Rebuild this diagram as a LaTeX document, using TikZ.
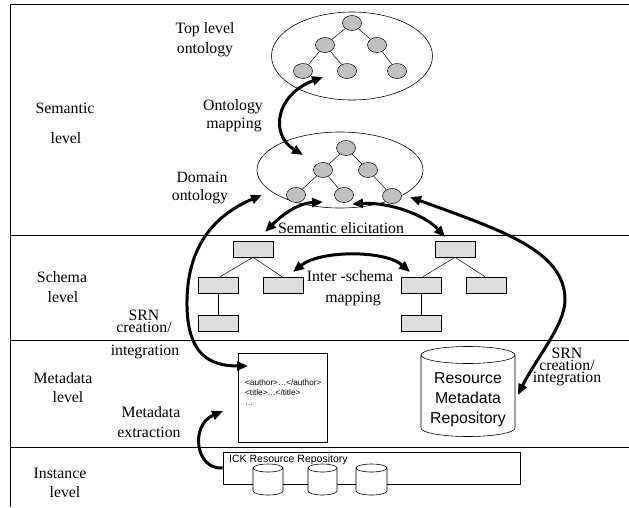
\documentclass[tikz,border=0pt]{standalone}
\usepackage{fontspec}
\setmainfont{Liberation Serif}
\setsansfont{Liberation Sans}
\usetikzlibrary{arrows.meta,shapes.geometric}
\definecolor{ogray}{HTML}{C0C0C0}
\definecolor{sgray}{HTML}{DDDDDD}
\tikzset{
  pics/dbcyl/.style n args={3}{code={
    \draw[fill=white,line width=0.6pt] (-#1pt,0pt) -- (-#1pt,-#2pt)
      arc[start angle=180,end angle=360,x radius=#1pt,y radius=#3pt] -- (#1pt,0pt);
    \draw[fill=white,line width=0.6pt] (0pt,0pt) ellipse[x radius=#1pt,y radius=#3pt];
  }}
}
\begin{document}
\begin{tikzpicture}[x=1pt,y=-1pt,
  frameline/.style={line width=0.8pt},
  lbl/.style={font=\fontsize{15.8}{18}\selectfont, anchor=base, inner sep=0pt},
  tightlbl/.style={font=\fontsize{15.8}{12}\selectfont, align=center, anchor=north, inner sep=0pt},
  slbl/.style={font=\sffamily\fontsize{15.8}{18}\selectfont, anchor=base, inner sep=0pt},
  doctxt/.style={font=\sffamily\fontsize{8.2}{10}\selectfont, anchor=base west, inner sep=0pt},
  onode/.style={ellipse, draw, fill=ogray, minimum width=19pt, minimum height=15pt, inner sep=0pt, line width=0.5pt},
  snode/.style={rectangle, draw, fill=sgray, minimum width=40pt, minimum height=16pt, inner sep=0pt, line width=0.6pt},
  bigell/.style={ellipse, draw, inner sep=0pt, line width=0.6pt},
  plainbox/.style={rectangle, draw, fill=white, inner sep=0pt, line width=0.6pt},
  tedge/.style={line width=0.5pt},
  flow/.style={line width=3pt, {Triangle[length=11pt,width=9pt]}-{Triangle[length=11pt,width=9pt]}},
  flowone/.style={line width=3pt, -{Triangle[length=11pt,width=9pt]}}
]
\useasboundingbox (0,0) rectangle (629,507);

% frame and level separators
\draw[frameline] (629,4) -- (10,4) -- (10,507);
\draw[frameline] (10,235) -- (629,235);
\draw[frameline] (10,340.5) -- (629,340.5);
\draw[frameline] (10,447) -- (629,447);

% level labels
\node[lbl] (semA) at (65,113) {Semantic};
\node[lbl] (semB) at (66,143) {level};
\node[lbl] (schA) at (62,282) {Schema};
\node[lbl] (schB) at (63,302) {level};
\node[lbl] (metA) at (63,383) {Metadata};
\node[lbl] (metB) at (68,402) {level};
\node[lbl] (insA) at (60,478) {Instance};
\node[lbl] (insB) at (65,497) {level};

% other labels
\node[lbl] (tlA) at (205,33) {Top level};
\node[lbl] (tlB) at (205,53) {ontology};
\node[lbl] (omA) at (233,110) {Ontology};
\node[lbl] (omB) at (234,128) {mapping};
\node[lbl] (doA) at (202,182) {Domain};
\node[lbl] (doB) at (200,200) {ontology};
\node[lbl] (sel) at (341,233) {Semantic elicitation};
\node[lbl] (isA) at (350,281) {Inter -schema};
\node[lbl] (isB) at (353,302) {mapping};
\node[tightlbl] (srnL) at (144,310) {SRN\\creation/};
\node[lbl] (srnLC) at (145,355) {integration};
\node[tightlbl] (srnR) at (567,348) {SRN\\creation/\\integration};
\node[lbl] (meA) at (151,417) {Metadata};
\node[lbl] (meB) at (149,437) {extraction};

% top level ontology
\node[bigell, minimum width=161pt, minimum height=88pt] (topell) at (352,56) {};
\node[onode] (a1) at (352,23) {};
\node[onode] (a2) at (325,45) {};
\node[onode] (a3) at (377,45) {};
\node[onode] (a4) at (303,71) {};
\node[onode] (a5) at (347,71) {};
\node[onode] (a6) at (397,71) {};
\draw[tedge] (a1) -- (a2); \draw[tedge] (a1) -- (a3);
\draw[tedge] (a2) -- (a4); \draw[tedge] (a2) -- (a5);
\draw[tedge] (a3) -- (a6);

% domain ontology
\node[bigell, minimum width=166pt, minimum height=76pt] (domell) at (340,170) {};
\node[onode] (b1) at (346,148) {};
\node[onode] (b2) at (323,170) {};
\node[onode] (b3) at (368,170) {};
\node[onode] (b4) at (296,195) {};
\node[onode] (b5) at (344,195) {};
\node[onode] (b6) at (392,196) {};
\draw[tedge] (b1) -- (b2); \draw[tedge] (b1) -- (b3);
\draw[tedge] (b2) -- (b4); \draw[tedge] (b2) -- (b5);
\draw[tedge] (b3) -- (b6);

% schema trees
\node[snode] (s1) at (253,249) {};
\node[snode] (s2) at (218,285) {};
\node[snode] (s3) at (283,285) {};
\node[snode] (s4) at (218,323) {};
\draw[tedge] (s1.south) -- ([xshift=2pt]s2.north);
\draw[tedge] (s1.south) -- ([xshift=-1pt]s3.north);
\draw[tedge] (s2.south) -- (s4.north);
\node[snode] (u1) at (455,249) {};
\node[snode] (u2) at (421,285) {};
\node[snode] (u3) at (486,285) {};
\node[snode] (u4) at (421,323) {};
\draw[tedge] (u1.south) -- ([xshift=2pt]u2.north);
\draw[tedge] (u1.south) -- ([xshift=-1pt]u3.north);
\draw[tedge] (u2.south) -- (u4.north);

% metadata document
\node[plainbox, minimum width=89pt, minimum height=89pt] (doc) at (282.5,397.5) {};
\node[doctxt] (d1) at (245,385) {<author>…</author>};
\node[doctxt] (d2) at (245,395) {<title>…</title>};
\node[doctxt] (d3) at (245,405) {…};

% resource metadata repository
\pic at (468,355) {dbcyl={47}{73}{8.5}};
\node[slbl] (rmA) at (468,383) {Resource};
\node[slbl] (rmB) at (468,403) {Metadata};
\node[slbl] (rmC) at (468,423) {Repository};

% ICK resource repository
\node[plainbox, minimum width=297pt, minimum height=32pt] (ick) at (371.5,468) {};
\node[font=\sffamily\fontsize{10.5}{12}\selectfont, anchor=base west, inner sep=0pt] (ickl) at (229,462) {ICK Resource Repository};
\pic at (268,468) {dbcyl={15}{23}{4}};
\pic at (322.5,468) {dbcyl={14.5}{23}{4}};
\pic at (371.5,468) {dbcyl={15.5}{23}{4}};

% connector end points
\coordinate (om1) at (303,155);
\coordinate (om2) at (323,77);
\coordinate (se1) at (265,232);
\coordinate (se2) at (323,202);
\coordinate (se3) at (352,204);
\coordinate (se4) at (445,237);
\coordinate (r1) at (410,197);
\coordinate (r2) at (518,395);
\coordinate (l1) at (262,195);
\coordinate (l2) at (248,366);
\coordinate (is1) at (293,272);
\coordinate (is2) at (410,272);
\coordinate (me2) at (223,411);

% thick connectors
\draw[flow] (om1) .. controls (270,135) and (275,95) .. (om2);
\draw[flow] (se1) .. controls (285,212) and (300,203) .. (se2);
\draw[flow] (se3) .. controls (390,202) and (425,215) .. (se4);
\draw[flow] (r1) .. controls (500,230) and (565,250) .. (565,300) .. controls (565,325) and (535,360) .. (r2);
\draw[flow] (l1) .. controls (215,215) and (188,245) .. (187,300) .. controls (186,355) and (210,366) .. (l2);
\draw[flow] (is1) .. controls (320,250) and (385,250) .. (is2);
\draw[flowone] (ick.west) .. controls (195,470) and (190,425) .. (me2);
\end{tikzpicture}
\end{document}
